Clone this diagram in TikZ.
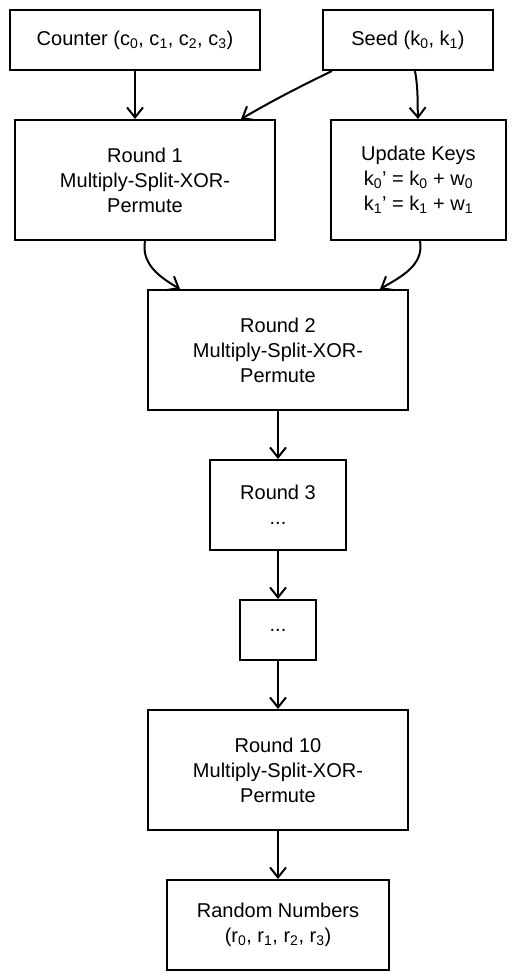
\documentclass[tikz,border=0pt]{standalone}
\usepackage{fontspec}
\setmainfont{Liberation Sans}
\usepackage{tikz}
\usetikzlibrary{arrows.meta}

\begin{document}
\begin{tikzpicture}[
    x=1pt, y=1pt,
    box/.style={draw, line width=2pt, minimum width=260pt, minimum height=120pt, align=center,
        font=\fontsize{20}{25}\selectfont},
    arrow/.style={-{Straight Barb[length=10pt, width=16pt, line width=2pt]}, line width=2pt}
]
    \useasboundingbox (0,0) rectangle (515,-980);

    % Inputs
    \node[box, minimum width=250pt, minimum height=60pt] (counter) at (135,-40) {Counter (c\textsubscript{0}, c\textsubscript{1}, c\textsubscript{2}, c\textsubscript{3})};
    \node[box, minimum width=170pt, minimum height=60pt] (seed) at (408,-40) {Seed (k\textsubscript{0}, k\textsubscript{1})};

    % First round and key schedule
    \node[box] (round1) at (145,-180) {Round 1\\Multiply-Split-XOR-\\Permute};
    \node[box, minimum width=175pt] (keys) at (418.5,-180) {Update Keys\\k\textsubscript{0}' = k\textsubscript{0} + w\textsubscript{0}\\k\textsubscript{1}' = k\textsubscript{1} + w\textsubscript{1}};

    % Middle rounds
    \node[box] (round2) at (278,-350) {Round 2\\Multiply-Split-XOR-\\Permute};
    \node[box, minimum width=136pt, minimum height=90pt] (round3) at (278,-505) {Round 3\\...};
    \node[box, minimum width=76pt, minimum height=60pt] (dots) at (278,-630) {...};

    % Last round
    \node[box] (round10) at (278,-770) {Round 10\\Multiply-Split-XOR-\\Permute};

    % Output
    \node[box, minimum width=222pt, minimum height=90pt] (output) at (278,-925) {Random Numbers\\(r\textsubscript{0}, r\textsubscript{1}, r\textsubscript{2}, r\textsubscript{3})};

    % Arrows
    \draw[arrow] (counter) -- (counter |- round1.north);
    \draw[arrow] ([xshift=10pt]seed.south west) to[out=206, in=30] ([xshift=-35pt]round1.north east);
    \draw[arrow] ([xshift=7pt]seed.south) to[out=-80, in=92] ([xshift=-0.5pt]keys.north);
    \draw[arrow] (round1.south) to[out=-100, in=150] ([xshift=-98pt]round2.north);
    \draw[arrow] ([xshift=1.5pt]keys.south) to[out=-80, in=30] ([xshift=102pt]round2.north);
    \draw[arrow] (round2) -- (round3);
    \draw[arrow] (round3) -- (dots);
    \draw[arrow] (dots) -- (round10);
    \draw[arrow] (round10) -- (output);
\end{tikzpicture}
\end{document}
